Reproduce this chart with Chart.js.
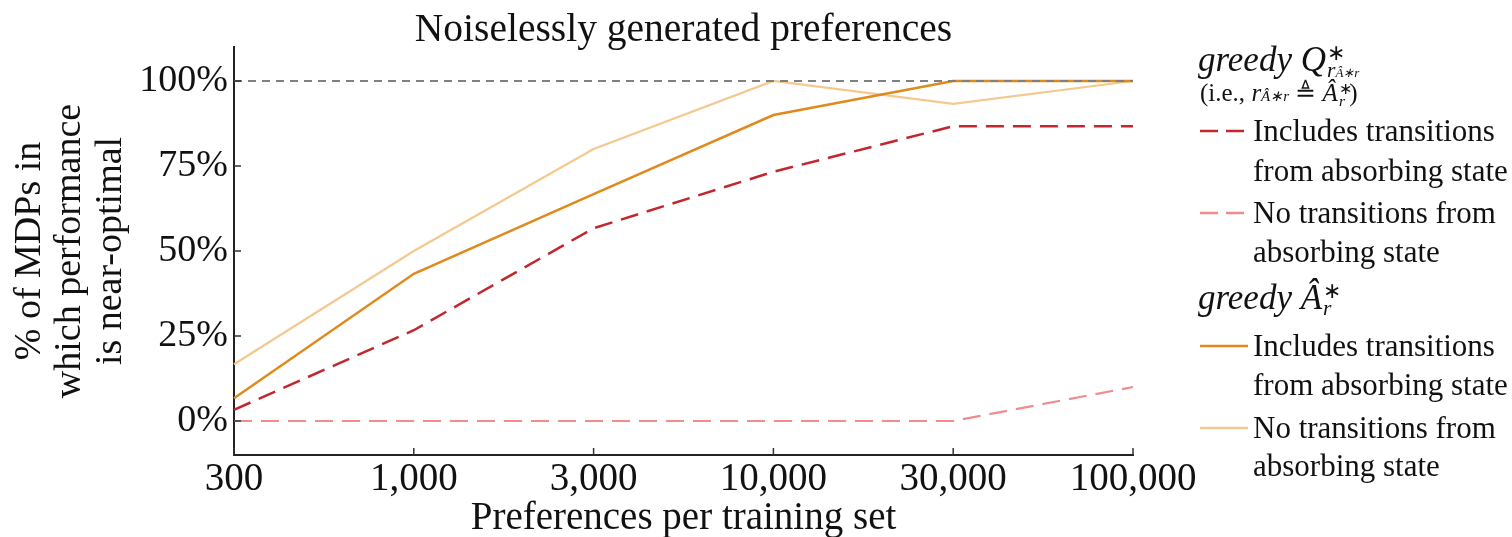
<!DOCTYPE html>
<html>
<head>
<meta charset="utf-8">
<script src="https://cdn.jsdelivr.net/npm/chart.js@4"></script>
<style>
  html, body { margin: 0; padding: 0; background: #fff; }
  #wrap { position: relative; width: 1512px; height: 537px; font-family: "Liberation Serif", serif; color: #111; }
  #chart { position: absolute; left: 0; top: 0; }
  .t { position: absolute; white-space: nowrap; line-height: 40px; }
  #title { left: 234px; width: 899px; top: 8px; text-align: center; font-size: 39.5px; }
  .leg { font-size: 31px; left: 1253px; }
  .hdr { font-size: 35px; font-style: italic; left: 1198px; }
  .note { font-size: 25px; left: 1200px; }
  .m { font-style: italic; }
  .ss { display: inline-block; position: relative; height: 0.7em; font-style: italic; }
  .ss .up, .ss .dn { position: absolute; left: 1px; font-size: 62%; line-height: 1; white-space: nowrap; }
  .ss .up { top: -0.15em; font-style: normal; }
  .ss .dn { top: 0.6em; }
  .tiny { font-size: 60%; }
  svg.s { position: absolute; left: 1200px; width: 48px; height: 6px; }
</style>
</head>
<body>
<div id="wrap">
  <canvas id="chart" width="1512" height="537"></canvas>
  <div class="t" id="title">Noiselessly generated preferences</div>

  <div class="t hdr" style="top:40px">greedy Q<span class="ss" style="width:1.1em"><span class="up">∗</span><span class="dn">r<span class="tiny">Â∗r</span></span></span></div>
  <div class="t note" style="top:73px">(i.e., <span class="m">r</span><span class="tiny m">Â∗r</span> ≜ <span class="m">Â</span><span class="ss" style="width:0.45em"><span class="up">∗</span><span class="dn">r</span></span>)</div>

  <svg class="s" style="top:128px"><line x1="0" y1="3" x2="48" y2="3" stroke="#c1272d" stroke-width="2.5" stroke-dasharray="18 8"/></svg>
  <div class="t leg" style="top:111px">Includes transitions</div>
  <div class="t leg" style="top:151px">from absorbing state</div>

  <svg class="s" style="top:210px"><line x1="0" y1="3" x2="48" y2="3" stroke="#f08c8c" stroke-width="2.5" stroke-dasharray="18 8"/></svg>
  <div class="t leg" style="top:193px">No transitions from</div>
  <div class="t leg" style="top:232px">absorbing state</div>

  <div class="t hdr" style="top:278px">greedy Â<span class="ss" style="width:0.5em"><span class="up">∗</span><span class="dn">r</span></span></div>

  <svg class="s" style="top:343px"><line x1="0" y1="3" x2="48" y2="3" stroke="#e08a1e" stroke-width="2.5"/></svg>
  <div class="t leg" style="top:326px">Includes transitions</div>
  <div class="t leg" style="top:365px">from absorbing state</div>

  <svg class="s" style="top:425px"><line x1="0" y1="3" x2="48" y2="3" stroke="#f3c98f" stroke-width="2.5"/></svg>
  <div class="t leg" style="top:408px">No transitions from</div>
  <div class="t leg" style="top:446px">absorbing state</div>
</div>

<script>
const preferences = ["300", "1,000", "3,000", "10,000", "30,000", "100,000"];
const qIncludes = [3.3, 26.7, 56.7, 73.3, 86.7, 86.7];
const qNoTransitions = [0, 0, 0, 0, 0, 10];
const aIncludes = [6.7, 43.3, 66.7, 90, 100, 100];
const aNoTransitions = [16.7, 50, 80, 100, 93.3, 100];
const optimal = [100, 100, 100, 100, 100, 100];
const yTicks = [0, 25, 50, 75, 100];

const serif = "'Liberation Serif', serif";

// inward tick marks, as in the original figure
const inwardTicks = {
  id: "inwardTicks",
  afterDraw(chart) {
    const { ctx, chartArea, scales } = chart;
    ctx.save();
    ctx.strokeStyle = "#333";
    ctx.lineWidth = 1.5;
    ctx.beginPath();
    scales.x.ticks.forEach((t, i) => {
      const x = scales.x.getPixelForTick(i);
      ctx.moveTo(x, chartArea.bottom);
      ctx.lineTo(x, chartArea.bottom - 7);
    });
    scales.y.ticks.forEach((t, i) => {
      const y = scales.y.getPixelForTick(i);
      ctx.moveTo(chartArea.left, y);
      ctx.lineTo(chartArea.left + 7, y);
    });
    ctx.stroke();
    ctx.restore();
  },
};

new Chart(document.getElementById("chart"), {
  type: "line",
  data: {
    labels: preferences,
    datasets: [
      {
        label: "optimal",
        data: optimal,
        borderColor: "#808080",
        borderWidth: 2.2,
        borderDash: [8, 6],
        order: 0,
      },
      {
        label: "greedy Q, includes transitions from absorbing state",
        data: qIncludes,
        borderColor: "#c1272d",
        borderWidth: 2.5,
        borderDash: [18, 9],
        order: 2,
      },
      {
        label: "greedy Q, no transitions from absorbing state",
        data: qNoTransitions,
        borderColor: "#f08c8c",
        borderWidth: 2.2,
        borderDash: [18, 9],
        order: 4,
      },
      {
        label: "greedy A, includes transitions from absorbing state",
        data: aIncludes,
        borderColor: "#e08a1e",
        borderWidth: 2.5,
        order: 1,
      },
      {
        label: "greedy A, no transitions from absorbing state",
        data: aNoTransitions,
        borderColor: "#f3c98f",
        borderWidth: 2.2,
        order: 3,
      },
    ],
  },
  options: {
    responsive: false,
    animation: false,
    layout: { padding: { left: 0, top: 47, right: 379, bottom: 0 } },
    elements: {
      point: { radius: 0 },
      line: { tension: 0, fill: false },
    },
    plugins: {
      legend: { display: false },
      tooltip: { enabled: false },
    },
    scales: {
      x: {
        type: "category",
        offset: false,
        grid: { drawOnChartArea: false, drawTicks: false },
        border: { display: true, color: "#222", width: 2 },
        ticks: {
          color: "#111",
          padding: 1,
          maxRotation: 0,
          autoSkip: false,
          font: { family: serif, size: 39 },
        },
        title: {
          display: true,
          text: "Preferences per training set",
          color: "#111",
          padding: { top: 0, bottom: 0 },
          font: { family: serif, size: 39, lineHeight: 0.95 },
        },
        afterFit(scale) {
          scale.height = 82;
        },
      },
      y: {
        min: -10,
        max: 110,
        grid: { drawOnChartArea: false, drawTicks: false },
        border: { display: true, color: "#222", width: 2 },
        afterBuildTicks(scale) {
          scale.ticks = yTicks.map((v) => ({ value: v }));
        },
        ticks: {
          color: "#111",
          padding: 6,
          font: { family: serif, size: 38 },
          callback: (v) => v + "%",
        },
        title: {
          display: true,
          text: ["% of MDPs in", "which performance", "is near-optimal"],
          color: "#111",
          padding: { top: 10, bottom: 0 },
          font: { family: serif, size: 38, lineHeight: 1.06 },
        },
        afterFit(scale) {
          scale.width = 234;
        },
      },
    },
  },
  plugins: [inwardTicks],
});
</script>
</body>
</html>
